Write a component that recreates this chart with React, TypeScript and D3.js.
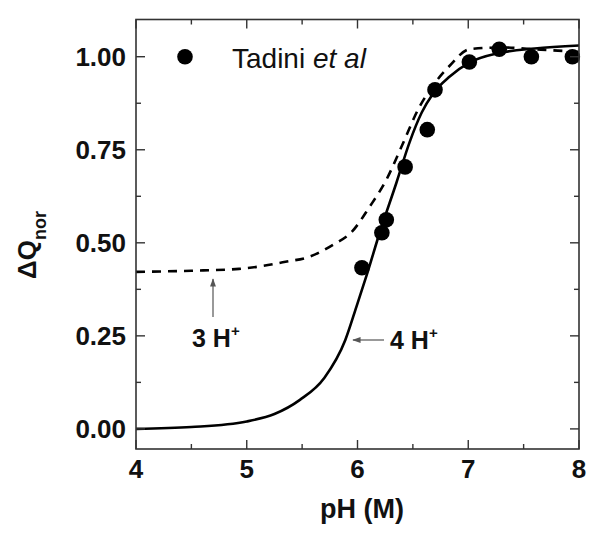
import React, { useEffect } from "react";
import * as d3 from "d3";

// Tadini et al measured points
const dataPH = [6.04, 6.22, 6.26, 6.43, 6.63, 6.70, 7.01, 7.28, 7.57, 7.94];
const dataQ = [0.433, 0.527, 0.562, 0.704, 0.804, 0.911, 0.986, 1.02, 1.0, 1.0];

// 4 H+ model curve (solid)
const fit4PH = [4.0, 4.5, 5.0, 5.25, 5.48, 5.7, 5.89, 5.99, 6.09, 6.2, 6.35, 6.47, 6.58, 6.68, 6.83, 7.01, 7.28, 7.6, 8.0];
const fit4Q = [0.0, 0.005, 0.02, 0.04, 0.078, 0.137, 0.239, 0.328, 0.42, 0.527, 0.66, 0.77, 0.85, 0.9, 0.946, 0.984, 1.01, 1.022, 1.03];

// 3 H+ model curve (dashed)
const fit3PH = [4.0, 4.5, 4.93, 5.15, 5.35, 5.56, 5.78, 5.95, 6.11, 6.26, 6.4, 6.55, 6.7, 6.83, 7.01, 7.3, 7.6, 8.0];
const fit3Q = [0.422, 0.425, 0.43, 0.438, 0.449, 0.462, 0.495, 0.53, 0.597, 0.669, 0.76, 0.86, 0.93, 0.975, 1.02, 1.025, 1.02, 1.013];

const xTicks = [4, 5, 6, 7, 8];
const xMinor = [4.5, 5.5, 6.5, 7.5];
const yTicks = [0, 0.25, 0.5, 0.75, 1.0];
const yMinor = [0.125, 0.375, 0.625, 0.875];

const W = 601;
const H = 541;
const L = 136, R = 579, T = 19.5, B = 449;
const font = "Liberation Sans, Arial, sans-serif";
const axisColor = "#333";
const textColor = "#111";

export default function App() {
  useEffect(() => {
    document.body.style.margin = "0";
  }, []);

  const x = d3.scaleLinear().domain([4, 8]).range([L, R]);
  const y = d3.scaleLinear().domain([-0.054, 1.1]).range([B, T]);

  const line = d3.line<[number, number]>().curve(d3.curveMonotoneX);
  const solid = line(fit4PH.map((p, i) => [x(p), y(fit4Q[i])] as [number, number]));
  const dashed = line(fit3PH.map((p, i) => [x(p), y(fit3Q[i])] as [number, number]));

  const major = 9;
  const minor = 5;

  return (
    <svg width={W} height={H} style={{ display: "block", background: "#fff" }}>
      <defs>
        <clipPath id="plot">
          <rect x={L} y={T} width={R - L} height={B - T} />
        </clipPath>
        <marker id="ah" viewBox="0 0 10 10" refX="9" refY="5" markerWidth="7" markerHeight="7" orient="auto-start-reverse">
          <path d="M0,1.5 L10,5 L0,8.5 z" fill="#555" />
        </marker>
      </defs>

      {/* curves */}
      <g clipPath="url(#plot)">
        <path d={dashed ?? ""} fill="none" stroke="#000" strokeWidth={2.6} strokeDasharray="9,7" />
        <path d={solid ?? ""} fill="none" stroke="#000" strokeWidth={2.6} />
      </g>

      {/* data points */}
      {dataPH.map((p, i) => (
        <circle key={i} cx={x(p)} cy={y(dataQ[i])} r={7.8} fill="#000" />
      ))}

      {/* frame */}
      <rect x={L} y={T} width={R - L} height={B - T} fill="none" stroke={axisColor} strokeWidth={1.6} />

      {/* ticks, pointing inward on all four sides */}
      {xTicks.concat(xMinor).map((t) => {
        const len = xTicks.includes(t) ? major : minor;
        return (
          <g key={"x" + t} stroke={axisColor} strokeWidth={1.4}>
            <line x1={x(t)} x2={x(t)} y1={B} y2={B - len} />
            <line x1={x(t)} x2={x(t)} y1={T} y2={T + len} />
          </g>
        );
      })}
      {yTicks.concat(yMinor).map((t) => {
        const len = yTicks.includes(t) ? major : minor;
        return (
          <g key={"y" + t} stroke={axisColor} strokeWidth={1.4}>
            <line x1={L} x2={L + len} y1={y(t)} y2={y(t)} />
            <line x1={R} x2={R - len} y1={y(t)} y2={y(t)} />
          </g>
        );
      })}

      {/* tick labels */}
      {xTicks.map((t) => (
        <text key={"xl" + t} x={x(t)} y={478} textAnchor="middle" fontFamily={font} fontWeight="bold" fontSize={26} fill={textColor}>
          {t}
        </text>
      ))}
      {yTicks.map((t) => (
        <text key={"yl" + t} x={126} y={y(t) + 9} textAnchor="end" fontFamily={font} fontWeight="bold" fontSize={26} fill={textColor}>
          {d3.format(".2f")(t)}
        </text>
      ))}

      {/* axis titles */}
      <text x={362} y={518} textAnchor="middle" fontFamily={font} fontWeight="bold" fontSize={27} fill={textColor}>
        pH (M)
      </text>
      <text transform="translate(36,279) rotate(-90)" fontFamily={font} fontWeight="bold" fontSize={26} fill={textColor}>
        ΔQ
        <tspan fontSize={18} dy={10}>nor</tspan>
      </text>

      {/* legend */}
      <circle cx={185} cy={y(1.0)} r={7.8} fill="#000" />
      <text x={232} y={68} fontFamily={font} fontSize={28} fill={textColor}>
        Tadini <tspan fontStyle="italic">et al</tspan>
      </text>

      {/* annotations */}
      <line x1={213} x2={213} y1={317} y2={279} stroke="#555" strokeWidth={1.2} markerEnd="url(#ah)" />
      <text x={192} y={347} fontFamily={font} fontWeight="bold" fontSize={25} fill={textColor}>
        3 H<tspan fontSize={15} dy={-11}>+</tspan>
      </text>
      <line x1={384} x2={353} y1={340} y2={340} stroke="#555" strokeWidth={1.2} markerEnd="url(#ah)" />
      <text x={390} y={349} fontFamily={font} fontWeight="bold" fontSize={25} fill={textColor}>
        4 H<tspan fontSize={15} dy={-11}>+</tspan>
      </text>
    </svg>
  );
}
